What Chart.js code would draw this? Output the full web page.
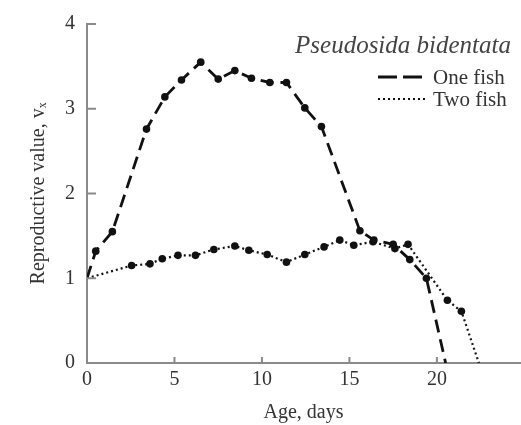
<!DOCTYPE html>
<html>
<head>
<meta charset="utf-8">
<script src="https://cdn.jsdelivr.net/npm/chart.js@4/dist/chart.umd.min.js"></script>
<style>
  body { margin: 0; background: #fff; }
  canvas { display: block; }
</style>
</head>
<body>
<canvas id="myChart" width="521" height="425"></canvas>
<script>
var speciesName = 'Pseudosida bidentata'
var seriesLabels = ['One fish', 'Two fish']
var xTickValues = [0, 5, 10, 15, 20]
var yTickValues = [0, 1, 2, 3, 4]

var oneFishAge = [0, 0.5, 1.45, 3.4, 4.45, 5.4, 6.5, 7.5, 8.45, 9.4, 10.45, 11.4, 12.45, 13.4, 15.6, 16.4, 17.5, 18.45, 19.4, 20.5]
var oneFishValue = [1.0, 1.32, 1.55, 2.76, 3.14, 3.34, 3.55, 3.35, 3.45, 3.36, 3.31, 3.31, 3.01, 2.79, 1.56, 1.45, 1.40, 1.22, 1.0, 0]

var twoFishAge = [0, 2.55, 3.6, 4.3, 5.2, 6.2, 7.25, 8.45, 9.25, 10.3, 11.4, 12.45, 13.55, 14.45, 15.25, 16.35, 17.6, 18.35, 20.6, 21.4, 22.4]
var twoFishValue = [1.0, 1.15, 1.17, 1.23, 1.27, 1.27, 1.34, 1.38, 1.33, 1.28, 1.19, 1.28, 1.37, 1.45, 1.39, 1.43, 1.35, 1.40, 0.74, 0.61, 0]

var serif = "'Liberation Serif', 'DejaVu Serif', serif"
var axisColor = '#8a8a8a'

function toPoints(xs, ys) {
  return xs.map(function(x, i) { return {x: x, y: ys[i]} })
}
// no marker at the two ends of a curve
function markerSizes(xs) {
  return xs.map(function(x, i) { return (i === 0 || i === xs.length - 1) ? 0 : 3.8 })
}

// inward tick marks, drawn from the scales
var innerTicks = {
  id: 'innerTicks',
  afterDraw: function(chart) {
    var ctx = chart.ctx
    var xs = chart.scales.x
    var ys = chart.scales.y
    var area = chart.chartArea
    ctx.save()
    ctx.strokeStyle = axisColor
    ctx.lineWidth = 2
    ctx.beginPath()
    yTickValues.forEach(function(v) {
      if (v === 0) return
      var py = ys.getPixelForValue(v)
      ctx.moveTo(area.left, py)
      ctx.lineTo(area.left + 9, py)
    })
    xTickValues.forEach(function(v) {
      if (v === 0) return
      var px = xs.getPixelForValue(v)
      ctx.moveTo(px, area.bottom)
      ctx.lineTo(px, area.bottom - 6)
    })
    ctx.stroke()
    ctx.restore()
  }
}

// species name and legend in the top right corner
var cornerLegend = {
  id: 'cornerLegend',
  afterDraw: function(chart) {
    var ctx = chart.ctx
    ctx.save()
    ctx.fillStyle = '#444'
    ctx.textBaseline = 'middle'
    ctx.textAlign = 'right'
    ctx.font = 'italic 25px ' + serif
    ctx.fillText(speciesName, 511, 46)

    ctx.font = '21px ' + serif
    ctx.textAlign = 'left'
    var rows = [77, 99]
    chart.data.datasets.forEach(function(ds, i) {
      var y = rows[i]
      ctx.strokeStyle = '#111'
      ctx.lineWidth = ds.borderWidth
      ctx.setLineDash(i === 0 ? [19, 6] : ds.borderDash)
      ctx.beginPath()
      ctx.moveTo(378, y)
      ctx.lineTo(428, y)
      ctx.stroke()
      ctx.setLineDash([])
      ctx.fillStyle = '#333'
      ctx.fillText(ds.label, 433, y + 1)
    })
    ctx.restore()
  }
}

var chartData = {
  datasets: [{
    label: seriesLabels[0],
    data: toPoints(oneFishAge, oneFishValue),
    showLine: true,
    borderColor: '#111',
    backgroundColor: '#111',
    borderWidth: 2.8,
    borderDash: [13, 7],
    pointRadius: markerSizes(oneFishAge),
    pointBorderWidth: 0,
    tension: 0
  }, {
    label: seriesLabels[1],
    data: toPoints(twoFishAge, twoFishValue),
    showLine: true,
    borderColor: '#111',
    backgroundColor: '#111',
    borderWidth: 2.2,
    borderDash: [2, 3],
    pointRadius: markerSizes(twoFishAge),
    pointBorderWidth: 0,
    tension: 0
  }]
}

var chartOptions = {
  responsive: false,
  animation: false,
  layout: { padding: { top: 18, right: 1, left: 0, bottom: 0 } },
  plugins: { legend: { display: false }, tooltip: { enabled: false } },
  scales: {
    x: {
      type: 'linear',
      min: 0,
      max: 24.75,
      afterFit: function(s) { s.height = 62 },
      afterBuildTicks: function(s) { s.ticks = xTickValues.map(function(v) { return {value: v} }) },
      grid: { display: false, drawTicks: false },
      border: { color: axisColor, width: 2 },
      ticks: { color: '#333', padding: 5, font: { family: serif, size: 20 } },
      title: { display: true, text: 'Age, days', color: '#333', padding: { top: 0, bottom: 0 }, font: { family: serif, size: 20 } }
    },
    y: {
      min: 0,
      max: 4,
      afterFit: function(s) { s.width = 87 },
      afterBuildTicks: function(s) { s.ticks = yTickValues.map(function(v) { return {value: v} }) },
      grid: { display: false, drawTicks: false },
      border: { color: axisColor, width: 2 },
      ticks: { color: '#333', padding: 12, font: { family: serif, size: 20 } },
      title: { display: true, text: 'Reproductive value, vₓ', color: '#333', padding: { top: 27, bottom: 0 }, font: { family: serif, size: 20 } }
    }
  }
}

var ctx = document.getElementById('myChart')
var myChart = new Chart(ctx, {
  type: 'scatter',
  data: chartData,
  options: chartOptions,
  plugins: [innerTicks, cornerLegend]
})
</script>
</body>
</html>
